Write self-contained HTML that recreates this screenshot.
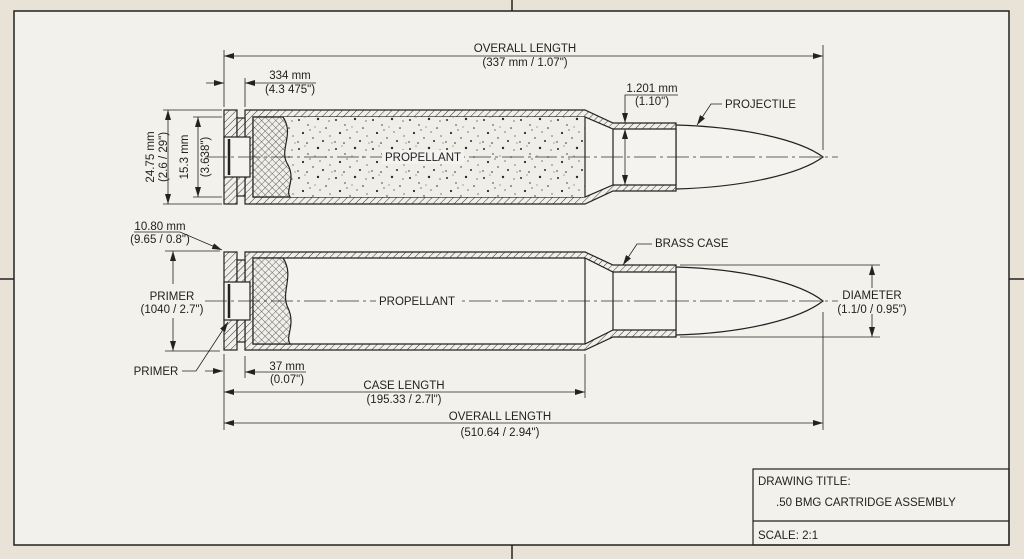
<!DOCTYPE html>
<html><head><meta charset="utf-8"><style>
html,body{margin:0;padding:0;background:#e8e3d6;}
svg{display:block;font-family:"Liberation Sans",sans-serif;}
text{fill:#222;font-size:11.5px;}
</style></head><body>
<svg width="1024" height="559" viewBox="0 0 1024 559" xmlns="http://www.w3.org/2000/svg">
<defs>
<pattern id="hatch" width="5" height="5" patternUnits="userSpaceOnUse" patternTransform="rotate(45)">
<rect width="5" height="5" fill="#f1efea"/><line x1="0" y1="0" x2="0" y2="5" stroke="#333" stroke-width="1"/></pattern>
<pattern id="xhatch" width="5" height="5" patternUnits="userSpaceOnUse" patternTransform="rotate(45)">
<rect width="5" height="5" fill="#f1efea"/><line x1="0" y1="0" x2="0" y2="5" stroke="#444" stroke-width="0.8"/><line x1="0" y1="0" x2="5" y2="0" stroke="#444" stroke-width="0.8"/></pattern>
<pattern id="speck" width="37" height="29" patternUnits="userSpaceOnUse">
<rect width="37" height="29" fill="#efeee9"/>
<g fill="#2a2a2a"><circle cx="3" cy="4" r="1"/><circle cx="12" cy="9" r="0.7"/><circle cx="22" cy="3" r="1.2"/><circle cx="30" cy="12" r="0.8"/><circle cx="7" cy="17" r="1.1"/><circle cx="17" cy="22" r="0.7"/><circle cx="27" cy="25" r="1"/><circle cx="34" cy="20" r="0.6"/><circle cx="14" cy="14" r="0.6"/><circle cx="2" cy="26" r="0.7"/><circle cx="24" cy="16" r="0.6"/><circle cx="33" cy="5" r="0.6"/><circle cx="9" cy="1" r="0.5"/><circle cx="19" cy="11" r="0.5"/><circle cx="36" cy="27" r="0.5"/><circle cx="11" cy="27" r="0.8"/></g></pattern>
<marker id="ar" viewBox="0 0 10 6" refX="10" refY="3" markerWidth="10" markerHeight="6" orient="auto-start-reverse" markerUnits="userSpaceOnUse"><path d="M0,0 L10,3 L0,6 Z" fill="#222"/></marker>
</defs>
<rect x="14" y="11" width="995" height="534" fill="#f3f1ec" stroke="#222" stroke-width="1.5"/>
<g stroke="#222" stroke-width="1.5"><line x1="512" y1="0" x2="512" y2="11"/><line x1="512" y1="545" x2="512" y2="559"/><line x1="0" y1="279" x2="14" y2="279"/><line x1="1009" y1="279" x2="1024" y2="279"/></g>

<!-- TOP CARTRIDGE -->
<g stroke="#222" stroke-width="1.2">
<path d="M676,125 C745,127 800,140 823,157 C800,174 745,187 676,189" fill="#f4f3ef"/>
<path d="M245,110 L585,110 L613,123 L676,123 L676,191 L613,191 L585,204 L245,204 Z" fill="url(#hatch)"/>
<path d="M253,117 L585,117 L613,129 L676,129 L676,185 L613,185 L585,197 L253,197 Z" fill="#f4f3ef"/>
<rect x="253" y="117" width="332" height="80" fill="url(#speck)" stroke="none"/>
<path d="M253,117 L283,117 C295,135 278,150 288,165 C296,180 285,190 290,197 L253,197 Z" fill="url(#xhatch)"/>
<line x1="585" y1="117" x2="585" y2="197"/><line x1="613" y1="129" x2="613" y2="185"/>
<rect x="224" y="110" width="13" height="94" fill="url(#hatch)"/>
<rect x="237" y="118" width="8" height="78" fill="url(#hatch)"/>
<rect x="224" y="137" width="26" height="40" fill="#f4f3ef"/>
<line x1="229" y1="139" x2="229" y2="175" stroke-width="2.5"/>
</g>
<line x1="205" y1="157" x2="838" y2="157" stroke="#333" stroke-width="0.8" stroke-dasharray="22 4 3 4"/>
<rect x="382" y="150" width="82" height="14" fill="#f4f3ef"/>
<text x="423" y="161" text-anchor="middle" font-size="12.5">PROPELLANT</text>

<!-- top dimensions -->
<g stroke="#222" stroke-width="0.8" fill="none">
<line x1="224" y1="50" x2="224" y2="107"/><line x1="245" y1="78" x2="245" y2="107"/>
<line x1="823" y1="45" x2="823" y2="150"/>
<line x1="224" y1="56" x2="823" y2="56" marker-start="url(#ar)" marker-end="url(#ar)"/>
<line x1="245" y1="83" x2="316" y2="83" marker-start="url(#ar)"/>
<line x1="206" y1="83" x2="224" y2="83" marker-end="url(#ar)"/>
<line x1="163" y1="110" x2="222" y2="110"/><line x1="163" y1="204" x2="222" y2="204"/>
<line x1="193" y1="117" x2="222" y2="117"/><line x1="193" y1="197" x2="222" y2="197"/>
<line x1="168" y1="110" x2="168" y2="204" marker-start="url(#ar)" marker-end="url(#ar)"/>
<line x1="198" y1="117" x2="198" y2="197" marker-start="url(#ar)" marker-end="url(#ar)"/>
<polyline points="625,123 625,95 678,95" marker-start="url(#ar)"/>
<line x1="625" y1="129" x2="625" y2="185" marker-start="url(#ar)" marker-end="url(#ar)"/>
<polyline points="697,125 711,104 722,104" marker-start="url(#ar)"/>
</g>
<text x="525" y="52" text-anchor="middle">OVERALL LENGTH</text>
<text x="525" y="66" text-anchor="middle">(337 mm / 1.07")</text>
<text x="290" y="79" text-anchor="middle">334 mm</text>
<text x="290" y="93" text-anchor="middle">(4.3 475")</text>
<text x="652" y="92" text-anchor="middle">1.201 mm</text>
<text x="652" y="105" text-anchor="middle">(1.10")</text>
<text x="725" y="108">PROJECTILE</text>
<text transform="translate(154,157) rotate(-90)" text-anchor="middle">24.75 mm</text>
<text transform="translate(167,157) rotate(-90)" text-anchor="middle">(2.6 / 29")</text>
<text transform="translate(188,157) rotate(-90)" text-anchor="middle">15.3 mm</text>
<text transform="translate(209,157) rotate(-90)" text-anchor="middle">(3.638")</text>

<!-- BOTTOM CARTRIDGE -->
<g stroke="#222" stroke-width="1.2">
<path d="M676,267 C745,269 800,283 823,301 C800,319 745,333 676,335" fill="#f4f3ef"/>
<path d="M245,252 L585,252 L613,265 L676,265 L676,337 L613,337 L585,350 L245,350 Z" fill="url(#hatch)"/>
<path d="M253,258 L585,258 L613,272 L676,272 L676,330 L613,330 L585,344 L253,344 Z" fill="#f4f3ef"/>
<path d="M253,258 L283,258 C295,276 280,292 288,308 C296,325 285,336 290,344 L253,344 Z" fill="url(#xhatch)"/>
<line x1="585" y1="258" x2="585" y2="344"/><line x1="613" y1="272" x2="613" y2="330"/>
<rect x="224" y="252" width="13" height="98" fill="url(#hatch)"/>
<rect x="237" y="260" width="8" height="82" fill="url(#hatch)"/>
<rect x="224" y="282" width="26" height="38" fill="#f4f3ef"/>
<line x1="229" y1="284" x2="229" y2="318" stroke-width="2.5"/>
</g>
<line x1="205" y1="301" x2="838" y2="301" stroke="#333" stroke-width="0.8" stroke-dasharray="22 4 3 4"/>
<rect x="376" y="294" width="82" height="14" fill="#f4f3ef"/>
<text x="417" y="305" text-anchor="middle" font-size="12.5">PROPELLANT</text>

<!-- bottom dimensions -->
<g stroke="#222" stroke-width="0.8" fill="none">
<polyline points="134,232 180,232 222,250" marker-end="url(#ar)"/>
<line x1="165" y1="251" x2="220" y2="251"/><line x1="165" y1="351" x2="220" y2="351"/>
<line x1="173" y1="251" x2="173" y2="284" marker-start="url(#ar)"/>
<line x1="173" y1="318" x2="173" y2="351" marker-end="url(#ar)"/>
<polyline points="182,371 196,371 228,322" marker-end="url(#ar)"/>
<line x1="205" y1="371" x2="223" y2="371" marker-end="url(#ar)"/>
<line x1="224" y1="354" x2="224" y2="430"/><line x1="245" y1="356" x2="245" y2="378"/>
<line x1="585" y1="354" x2="585" y2="398"/><line x1="823" y1="312" x2="823" y2="430"/>
<line x1="245" y1="372" x2="306" y2="372" marker-start="url(#ar)"/>
<line x1="224" y1="392" x2="585" y2="392" marker-start="url(#ar)" marker-end="url(#ar)"/>
<line x1="224" y1="423" x2="823" y2="423" marker-start="url(#ar)" marker-end="url(#ar)"/>
<line x1="680" y1="265" x2="880" y2="265"/><line x1="680" y1="337" x2="880" y2="337"/>
<line x1="872" y1="265" x2="872" y2="288" marker-start="url(#ar)"/>
<line x1="872" y1="314" x2="872" y2="337" marker-end="url(#ar)"/>
<polyline points="623,265 637,244 652,244" marker-start="url(#ar)"/>
</g>
<text x="160" y="230" text-anchor="middle">10.80 mm</text>
<text x="160" y="243" text-anchor="middle">(9.65 / 0.8")</text>
<text x="172" y="300" text-anchor="middle" font-size="12">PRIMER</text>
<text x="172" y="313" text-anchor="middle">(1040 / 2.7")</text>
<text x="156" y="375" text-anchor="middle" font-size="12">PRIMER</text>
<text x="287" y="370" text-anchor="middle">37 mm</text>
<text x="287" y="383" text-anchor="middle">(0.07")</text>
<text x="404" y="389" text-anchor="middle" font-size="12">CASE LENGTH</text>
<text x="404" y="403" text-anchor="middle">(195.33 / 2.7l")</text>
<text x="500" y="420" text-anchor="middle" font-size="12">OVERALL LENGTH</text>
<text x="500" y="436" text-anchor="middle">(510.64 / 2.94")</text>
<text x="872" y="299" text-anchor="middle">DIAMETER</text>
<text x="872" y="313" text-anchor="middle">(1.1/0 / 0.95")</text>
<text x="655" y="247" font-size="12">BRASS CASE</text>

<!-- title block -->
<g stroke="#222" stroke-width="1.2" fill="none">
<rect x="753" y="469" width="256" height="76"/><line x1="753" y1="521" x2="1009" y2="521"/>
</g>
<text x="758" y="485" font-size="13.5">DRAWING TITLE:</text>
<text x="776" y="506" font-size="14.5">.50 BMG CARTRIDGE ASSEMBLY</text>
<text x="758" y="539" font-size="13.5">SCALE: 2:1</text>
</svg>
</body></html>
